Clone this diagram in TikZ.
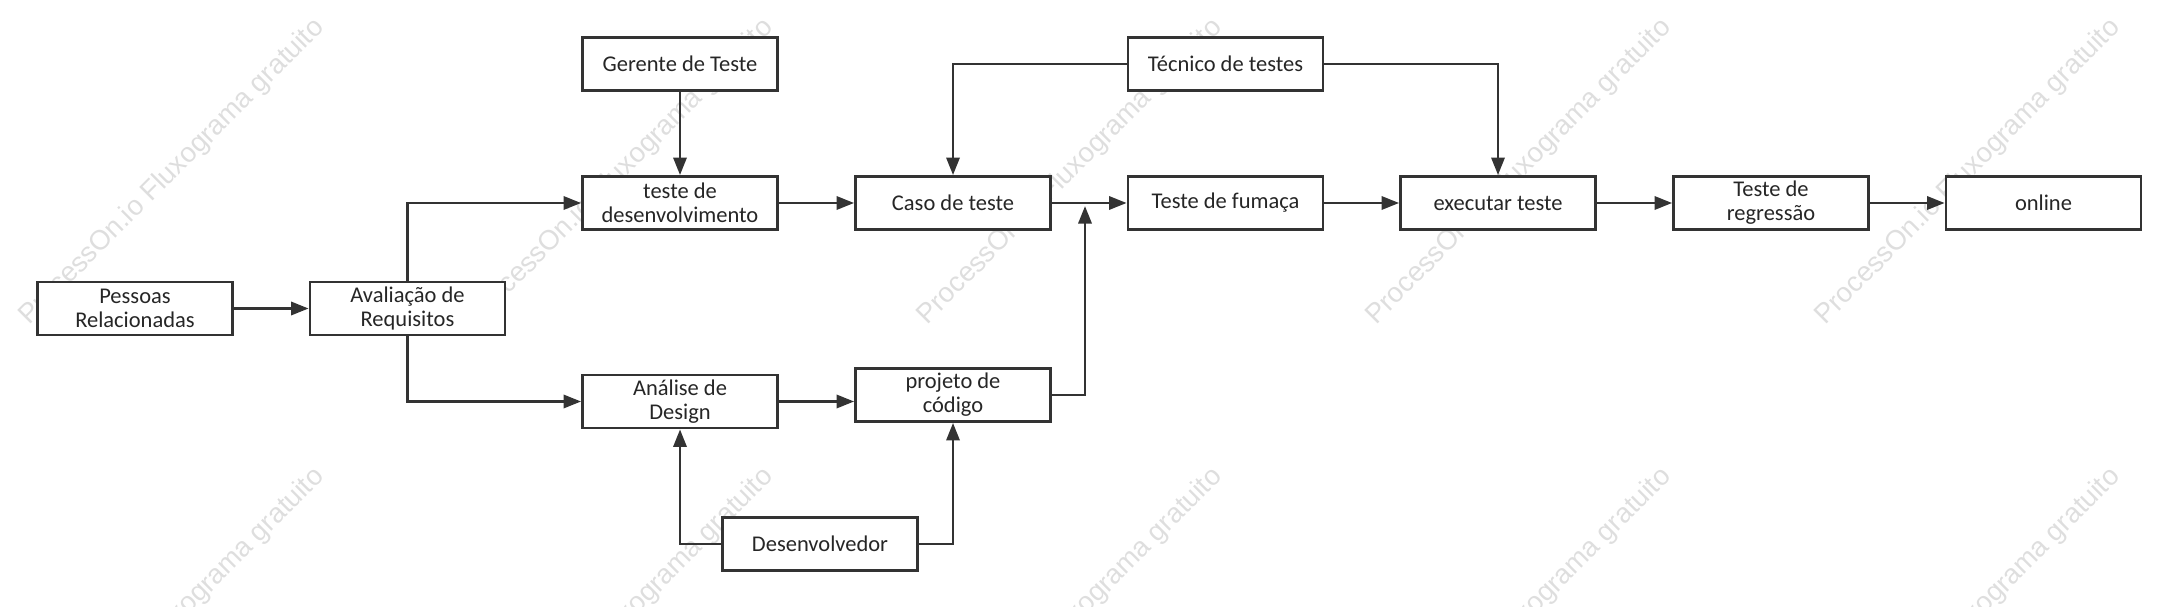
\documentclass[tikz,border=0pt]{standalone}
\usepackage{fontspec}
\setmainfont{Carlito}
\newfontfamily\wmfont{Liberation Sans}
\usepackage{tikz}
\usetikzlibrary{arrows.meta,calc}

\definecolor{linegray}{HTML}{333333}
\definecolor{wmgray}{HTML}{DEDEDE}

\tikzset{
    box/.style={draw=linegray, line width=1.6pt, fill=white, minimum width=3.9cm, minimum height=1.06cm,
        align=center, inner sep=1pt, text=black!85, font=\fontsize{12.8pt}{13.6pt}\selectfont},
    conn/.style={draw=linegray, line width=1.6pt, -{Triangle[length=10pt,width=7.5pt]}},
    wmark/.style={rotate=45, text=wmgray, font=\wmfont\fontsize{15.7pt}{16pt}\selectfont}
}

\begin{document}
\begin{tikzpicture}[x=0.02cm, y=-0.02cm]

    % 画布大小
    \useasboundingbox (0,0) rectangle (2179,607);

    % 1. 水印
    \begin{scope}
        \clip (0,0) rectangle (2179,607);
        \foreach \i in {0,...,4} {
            \node[wmark] at (172+449*\i,172) {ProcessOn.io Fluxograma gratuito};
            \node[wmark] at (172+449*\i,621) {ProcessOn.io Fluxograma gratuito};
        }
    \end{scope}

    % 2. 方框
    \node[box] (pessoas)   at (135,308.5)  {Pessoas\\Relacionadas};
    \node[box] (avaliacao) at (407.5,308.5) {Avaliação de\\Requisitos};
    \node[box] (gerente)   at (680,64)     {Gerente de Teste};
    \node[box] (testedev)  at (680,203)    {teste de\\desenvolvimento};
    \node[box] (analise)   at (680,401.5)  {Análise de\\Design};
    \node[box] (caso)      at (953,203)    {Caso de teste};
    \node[box] (projeto)   at (953,395)    {projeto de\\código};
    \node[box] (desenv)    at (820,544)    {Desenvolvedor};
    \node[box] (tecnico)   at (1225.5,64)  {Técnico de testes};
    \node[box] (fumaca)    at (1225.5,203) {Teste de fumaça};
    \node[box] (executar)  at (1498,203)   {executar teste};
    \node[box] (regressao) at (1771,203)   {Teste de\\regressão};
    \node[box] (online)    at (2043.5,203) {online};

    % 汇合点
    \coordinate (junta) at (1085,206);

    % 3. 连线
    \draw[conn] (pessoas) -- (avaliacao);
    \draw[conn] (avaliacao.north) |- (testedev.west);
    \draw[conn] (avaliacao.south) |- (analise.west);
    \draw[conn] (gerente) -- (testedev);
    \draw[conn] (testedev) -- (caso);
    \draw[conn] (analise.east) -- (analise.east -| projeto.west);
    \draw[conn] (tecnico.west) -| (caso.north);
    \draw[conn] (tecnico.east) -| (executar.north);
    \draw[conn] (caso) -- (fumaca);
    \draw[conn] (projeto.east) -| (junta);
    \draw[conn] (desenv.west) -| (analise.south);
    \draw[conn] (desenv.east) -| (projeto.south);
    \draw[conn] (fumaca) -- (executar);
    \draw[conn] (executar) -- (regressao);
    \draw[conn] (regressao) -- (online);

\end{tikzpicture}
\end{document}
